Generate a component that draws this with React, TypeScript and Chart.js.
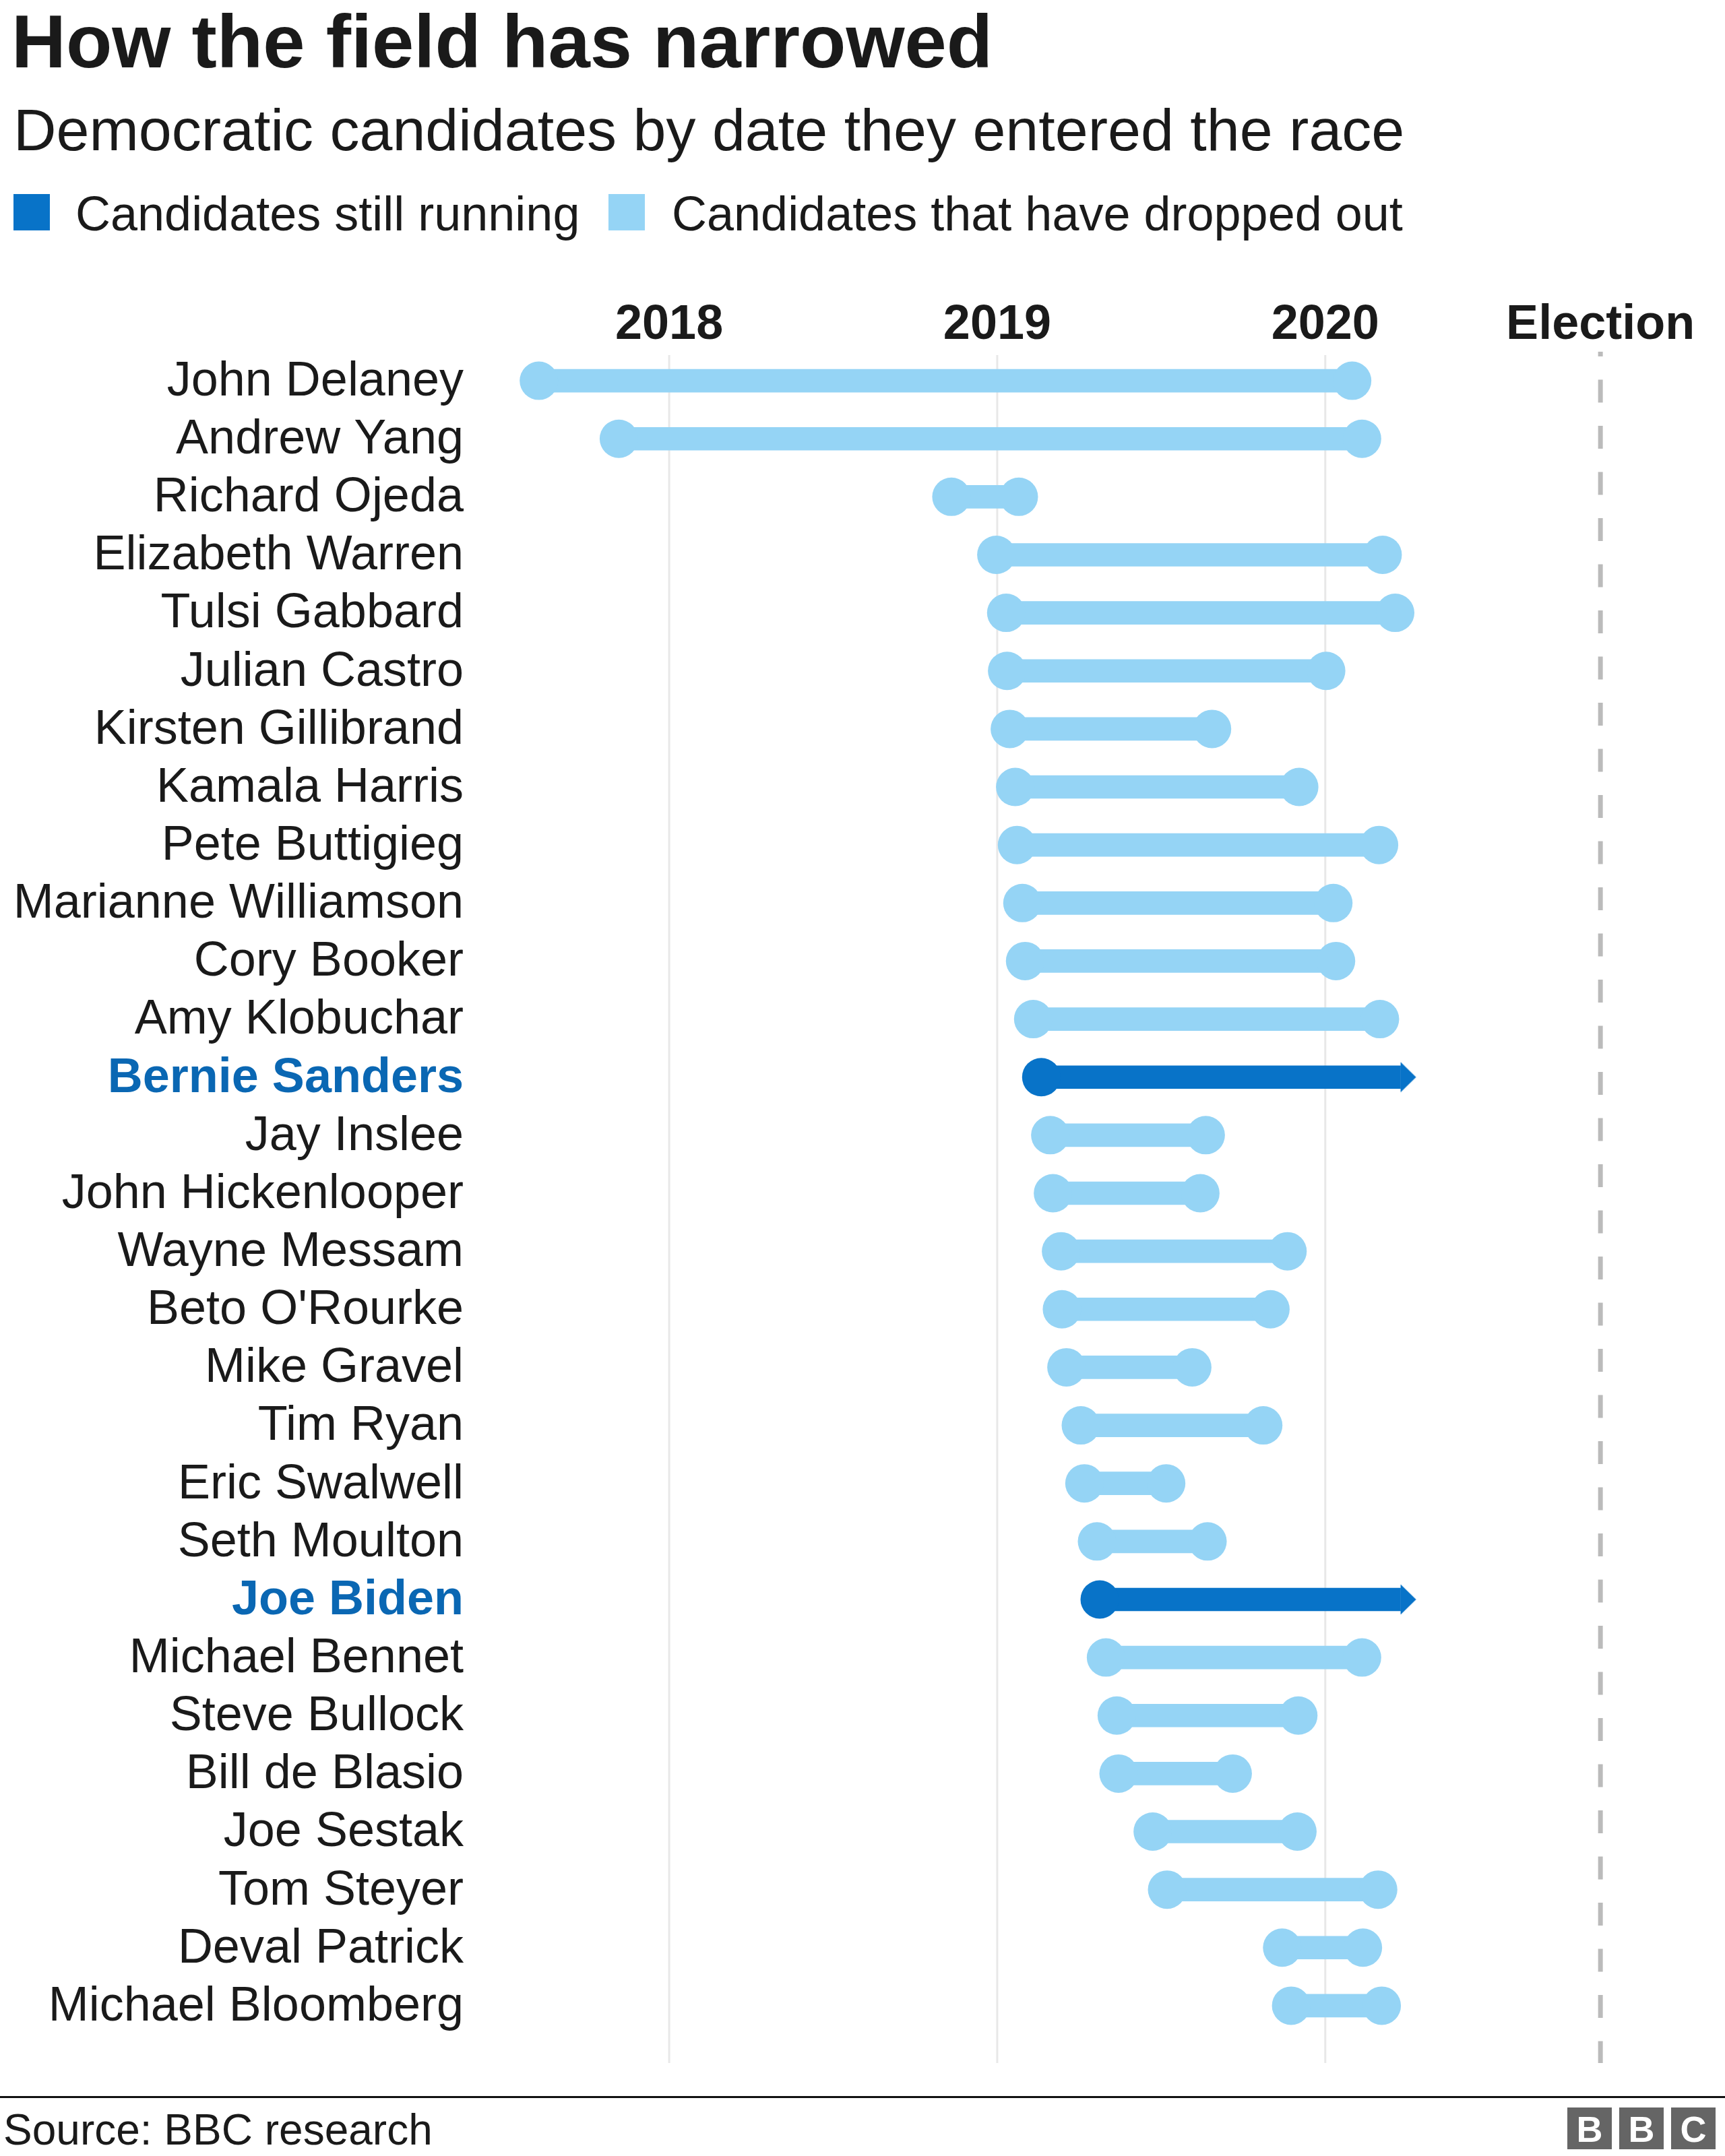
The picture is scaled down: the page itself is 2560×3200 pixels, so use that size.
import React, { useEffect, useRef } from 'react';
import { Chart, registerables } from 'chart.js';

Chart.register(...registerables);

// ---------- data ----------
const candidates = [
  'John Delaney', 'Andrew Yang', 'Richard Ojeda', 'Elizabeth Warren', 'Tulsi Gabbard',
  'Julian Castro', 'Kirsten Gillibrand', 'Kamala Harris', 'Pete Buttigieg', 'Marianne Williamson',
  'Cory Booker', 'Amy Klobuchar', 'Bernie Sanders', 'Jay Inslee', 'John Hickenlooper',
  'Wayne Messam', "Beto O'Rourke", 'Mike Gravel', 'Tim Ryan', 'Eric Swalwell',
  'Seth Moulton', 'Joe Biden', 'Michael Bennet', 'Steve Bullock', 'Bill de Blasio',
  'Joe Sestak', 'Tom Steyer', 'Deval Patrick', 'Michael Bloomberg',
];

const enteredRace = [
  '2017-08-09', '2017-11-06', '2018-11-11', '2018-12-31', '2019-01-11',
  '2019-01-12', '2019-01-15', '2019-01-21', '2019-01-23', '2019-01-29',
  '2019-02-01', '2019-02-10', '2019-02-19', '2019-03-01', '2019-03-04',
  '2019-03-13', '2019-03-14', '2019-03-19', '2019-04-04', '2019-04-08',
  '2019-04-22', '2019-04-25', '2019-05-02', '2019-05-14', '2019-05-16',
  '2019-06-23', '2019-07-09', '2019-11-14', '2019-11-24',
];

// null = still running
const droppedOut: (string | null)[] = [
  '2020-01-31', '2020-02-11', '2019-01-25', '2020-03-05', '2020-03-19',
  '2020-01-02', '2019-08-28', '2019-12-03', '2020-03-01', '2020-01-10',
  '2020-01-13', '2020-03-02', null, '2019-08-21', '2019-08-15',
  '2019-11-20', '2019-11-01', '2019-08-06', '2019-10-24', '2019-07-08',
  '2019-08-23', null, '2020-02-11', '2019-12-02', '2019-09-20',
  '2019-12-01', '2020-02-29', '2020-02-12', '2020-03-04',
];

const runningUntil = '2020-03-25';
const electionDate = '2020-11-03';
const yearTicks = [2018, 2019, 2020];
const electionLabel = 'Election';

const titleText = 'How the field has narrowed';
const subtitleText = 'Democratic candidates by date they entered the race';
const legendLabels = ['Candidates still running', 'Candidates that have dropped out'];
const sourceText = 'Source: BBC research';

// ---------- styles ----------
const DARK = '#0873c8';
const LIGHT = '#95d4f5';
const LABEL_DARK = '#0a67b3';
const TEXT = '#1a1a1a';
const FONT = '"Liberation Sans", Arial, Helvetica, sans-serif';

function toYear(d: string): number {
  const [y, m, dd] = d.split('-').map(Number);
  const s = Date.UTC(y, 0, 1);
  const e = Date.UTC(y + 1, 0, 1);
  return y + (Date.UTC(y, m - 1, dd) - s) / (e - s);
}

const electionValue = toYear(electionDate);

const gridPlugin = {
  id: 'yearGrid',
  beforeDatasetsDraw(chart: any) {
    const { ctx, chartArea, scales } = chart;
    const x = scales.x;
    ctx.save();
    ctx.strokeStyle = '#e8e8e8';
    ctx.lineWidth = 3;
    for (const y of yearTicks) {
      const px = x.getPixelForValue(y);
      ctx.beginPath();
      ctx.moveTo(px, chartArea.top + 5);
      ctx.lineTo(px, chartArea.bottom + 42);
      ctx.stroke();
    }
    const ex = x.getPixelForValue(electionValue);
    ctx.strokeStyle = '#bbbbbb';
    ctx.lineWidth = 7;
    ctx.setLineDash([34, 34.5]);
    ctx.lineDashOffset = 27;
    ctx.beginPath();
    ctx.moveTo(ex, chartArea.top);
    ctx.lineTo(ex, chartArea.bottom + 42);
    ctx.stroke();
    ctx.restore();
  },
};

function makeArrow(): HTMLCanvasElement {
  const c = document.createElement('canvas');
  c.width = 50;
  c.height = 46;
  const g = c.getContext('2d')!;
  g.fillStyle = DARK;
  g.beginPath();
  g.moveTo(25, 0.5);
  g.lineTo(48, 23);
  g.lineTo(25, 45.5);
  g.closePath();
  g.fill();
  return c;
}

function DumbbellChart() {
  const ref = useRef<HTMLCanvasElement | null>(null);
  useEffect(() => {
    if (!ref.current) return;
    const running = droppedOut.map((d) => d === null);
    const startVals = enteredRace.map(toYear);
    const endVals = droppedOut.map((d) => (d === null ? toYear(runningUntil) : toYear(d)));
    const colors = running.map((r) => (r ? DARK : LIGHT));
    const arrow = makeArrow();

    const chart = new Chart(ref.current, {
      type: 'bar',
      data: {
        labels: candidates,
        datasets: [
          {
            type: 'bar',
            label: 'span',
            data: candidates.map((_, i) => [startVals[i], endVals[i]]) as any,
            backgroundColor: colors,
            barThickness: 34,
            borderWidth: 0,
            borderSkipped: false,
            order: 2,
          } as any,
          {
            type: 'line',
            label: 'entered',
            data: candidates.map((n, i) => ({ x: startVals[i], y: n })) as any,
            showLine: false,
            pointRadius: 28.5,
            pointBorderWidth: 0,
            pointBackgroundColor: colors,
            pointBorderColor: colors,
            order: 1,
          } as any,
          {
            type: 'line',
            label: 'dropped',
            data: candidates
              .map((n, i) => (running[i] ? null : { x: endVals[i], y: n }))
              .filter((p) => p !== null) as any,
            showLine: false,
            pointRadius: 28.5,
            pointBorderWidth: 0,
            pointBackgroundColor: LIGHT,
            pointBorderColor: LIGHT,
            order: 1,
          } as any,
          {
            type: 'line',
            label: 'running',
            data: candidates
              .map((n, i) => (running[i] ? { x: endVals[i], y: n } : null))
              .filter((p) => p !== null) as any,
            showLine: false,
            pointStyle: arrow,
            pointRadius: 23,
            pointBorderWidth: 0,
            order: 0,
          } as any,
        ],
      },
      options: {
        indexAxis: 'y',
        animation: false,
        responsive: false,
        devicePixelRatio: 1,
        events: [],
        layout: { autoPadding: false, padding: { top: 400, bottom: 180, left: 0, right: 9 } },
        plugins: {
          legend: { display: false },
          tooltip: { enabled: false },
          title: { display: false },
        },
        scales: {
          x: {
            type: 'linear',
            position: 'top',
            min: 2017.4,
            max: 2021.2,
            grid: { display: false, drawTicks: false },
            border: { display: false },
            afterFit: (scale: any) => {
              scale.height = 122;
              scale.paddingLeft = 0;
              scale.paddingRight = 0;
            },
            afterBuildTicks: (scale: any) => {
              scale.ticks = [...yearTicks, electionValue].map((v) => ({ value: v }));
            },
            ticks: {
              autoSkip: false,
              maxRotation: 0,
              padding: -4,
              color: TEXT,
              font: { family: FONT, size: 72, weight: 'bold' },
              callback: (v: any) => (Math.abs(v - electionValue) < 1e-6 ? electionLabel : String(v)),
            },
          },
          y: {
            type: 'category',
            offset: true,
            grid: { display: false, drawTicks: false },
            border: { display: false },
            afterFit: (scale: any) => {
              scale.width = 701;
              scale.paddingTop = 0;
              scale.paddingBottom = 0;
            },
            ticks: {
              autoSkip: false,
              padding: 13,
              labelOffset: 2,
              color: (ctx: any) => (running[ctx.index] ? LABEL_DARK : TEXT),
              font: (ctx: any) => ({
                family: FONT,
                size: 72,
                weight: running[ctx.index] ? 'bold' : 'normal',
              }),
            },
          },
        },
      } as any,
      plugins: [gridPlugin],
    });
    return () => chart.destroy();
  }, []);

  return (
    <canvas
      ref={ref}
      width={2560}
      height={3200}
      style={{ position: 'absolute', left: 0, top: 0, width: 2560, height: 3200 }}
    />
  );
}

const abs = (o: React.CSSProperties): React.CSSProperties => ({
  position: 'absolute',
  whiteSpace: 'nowrap',
  lineHeight: 1,
  fontFamily: FONT,
  color: TEXT,
  ...o,
});

export default function App() {
  const bbc = ['B', 'B', 'C'];
  return (
    <div style={{ position: 'absolute', left: 0, top: 0, width: 2560, height: 3200, background: '#fff' }}>
      <DumbbellChart />
      <div style={abs({ left: 17, top: 6, fontSize: 112, fontWeight: 'bold' })}>{titleText}</div>
      <div style={abs({ left: 20, top: 149, fontSize: 88 })}>{subtitleText}</div>
      <div style={abs({ left: 20, top: 288, width: 54, height: 54, background: DARK })} />
      <div style={abs({ left: 112, top: 281, fontSize: 72 })}>{legendLabels[0]}</div>
      <div style={abs({ left: 903, top: 288, width: 54, height: 54, background: LIGHT })} />
      <div style={abs({ left: 997, top: 281, fontSize: 72 })}>{legendLabels[1]}</div>
      <div style={abs({ left: 0, top: 3111, width: 2560, height: 3, background: '#111' })} />
      <div style={abs({ left: 5, top: 3129, fontSize: 64 })}>{sourceText}</div>
      {bbc.map((ch, i) => (
        <div
          key={i}
          style={abs({
            left: 2326 + i * 77,
            top: 3128,
            width: 66,
            height: 62,
            background: '#656565',
            color: '#fff',
            fontSize: 54,
            fontWeight: 'bold',
            textAlign: 'center',
            lineHeight: '64px',
          })}
        >
          {ch}
        </div>
      ))}
    </div>
  );
}
